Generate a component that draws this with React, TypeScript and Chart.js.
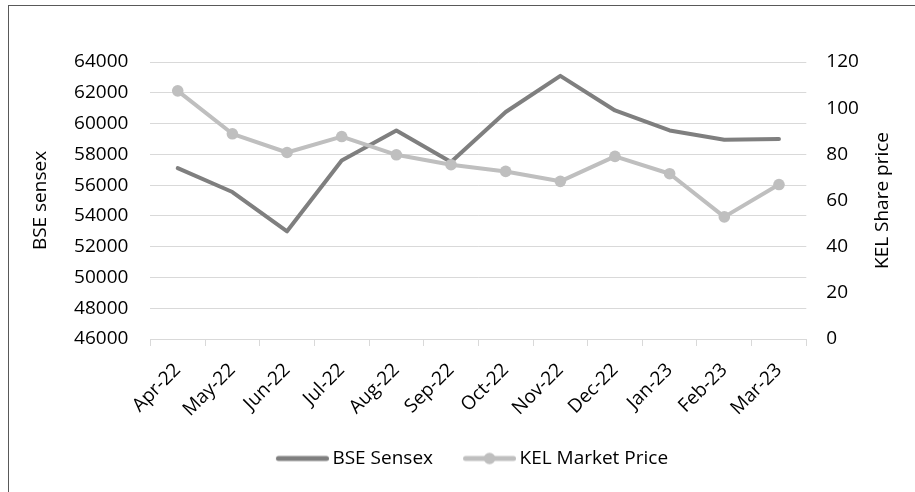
import React, { useEffect, useRef } from "react";
import { Chart, registerables } from "chart.js";

Chart.register(...registerables);

const months = ["Apr-22", "May-22", "Jun-22", "Jul-22", "Aug-22", "Sep-22", "Oct-22", "Nov-22", "Dec-22", "Jan-23", "Feb-23", "Mar-23"];
const bseSensex = [57100, 55550, 53000, 57600, 59550, 57500, 60750, 63100, 60850, 59550, 58950, 59000];
const kelPrice = [107.5, 88.9, 80.8, 87.7, 79.8, 75.5, 72.6, 68.3, 79.1, 71.6, 52.9, 66.9];
const leftAxisRange = [46000, 64000, 2000];
const rightAxisRange = [0, 120, 20];
const seriesNames = ["BSE Sensex", "KEL Market Price"];
const leftTitle = "BSE sensex";
const rightTitleText = "KEL Share price";

const FONT = '"Open Sans", "DejaVu Sans", sans-serif';
const BSE_COLOR = "#7f7f7f";
const KEL_COLOR = "#bfbfbf";
const GRID = "#d9d9d9";
const BOX_W = 67;
const FS = 19;

function makeIcon(color: string, dot: boolean) {
  const W = BOX_W + 12;
  const c = document.createElement("canvas");
  c.width = W;
  c.height = 14;
  const g = c.getContext("2d")!;
  g.strokeStyle = color;
  g.lineWidth = 5;
  g.lineCap = "round";
  g.beginPath();
  g.moveTo(W - 53 + 2.5, 7);
  g.lineTo(W - 2.5, 7);
  g.stroke();
  if (dot) {
    g.fillStyle = color;
    g.beginPath();
    g.arc(W - 26.5, 7, 5.8, 0, Math.PI * 2);
    g.fill();
  }
  return c;
}

const rightTitlePlugin = {
  id: "rightTitle",
  afterDraw(chart: any) {
    const s = chart.scales.y1;
    const ctx = chart.ctx;
    ctx.save();
    ctx.font = `${FS}px ${FONT}`;
    ctx.fillStyle = "#000";
    ctx.textAlign = "center";
    ctx.textBaseline = "middle";
    ctx.translate(s.right - 32, (chart.chartArea.top + chart.chartArea.bottom) / 2);
    ctx.rotate(-Math.PI / 2);
    ctx.fillText(rightTitleText, 0, 0);
    ctx.restore();
  },
};

export default function App() {
  const ref = useRef<HTMLCanvasElement>(null);
  useEffect(() => {
    const bseIcon = makeIcon(BSE_COLOR, false);
    const kelIcon = makeIcon(KEL_COLOR, true);
    const chart = new Chart(ref.current!, {
      type: "line",
      data: {
        labels: months,
        datasets: [
          {
            label: seriesNames[0],
            data: bseSensex,
            yAxisID: "y",
            borderColor: BSE_COLOR,
            backgroundColor: BSE_COLOR,
            borderWidth: 4,
            pointRadius: 0,
            pointHoverRadius: 0,
            tension: 0,
            borderJoinStyle: "round",
            borderCapStyle: "round",
            order: 1,
          },
          {
            label: seriesNames[1],
            data: kelPrice,
            yAxisID: "y1",
            borderColor: KEL_COLOR,
            backgroundColor: KEL_COLOR,
            pointBackgroundColor: KEL_COLOR,
            pointBorderWidth: 0,
            pointRadius: 5.8,
            borderWidth: 4,
            tension: 0,
            borderJoinStyle: "round",
            borderCapStyle: "round",
            order: 0,
          },
        ],
      },
      options: {
        responsive: false,
        animation: false,
        devicePixelRatio: 1,
        layout: { padding: { top: 56, bottom: 14, left: 0, right: 0 } },
        plugins: {
          tooltip: { enabled: false },
          legend: {
            position: "bottom",
            labels: {
              usePointStyle: true,
              pointStyleWidth: BOX_W,
              padding: 10,
              color: "#000",
              font: { family: FONT, size: FS },
              generateLabels: () => [
                { text: seriesNames[0], pointStyle: bseIcon as any, datasetIndex: 0, hidden: false, lineWidth: 0, fillStyle: BSE_COLOR, strokeStyle: BSE_COLOR },
                { text: seriesNames[1], pointStyle: kelIcon as any, datasetIndex: 1, hidden: false, lineWidth: 0, fillStyle: KEL_COLOR, strokeStyle: KEL_COLOR },
              ],
            },
          },
        },
        scales: {
          x: {
            type: "category",
            offset: true,
            grid: { display: true, drawOnChartArea: false, offset: true, color: GRID, tickLength: 7, lineWidth: 1 },
            border: { display: true, color: GRID, width: 1 },
            ticks: { maxRotation: 45, minRotation: 45, color: "#000", font: { family: FONT, size: FS }, padding: 13 },
            afterFit: (s: any) => { s.height = 100; },
          },
          y: {
            position: "left",
            min: leftAxisRange[0],
            max: leftAxisRange[1],
            ticks: { stepSize: leftAxisRange[2], color: "#000", font: { family: FONT, size: FS }, padding: 22, callback: (v: any) => String(v) },
            grid: { color: GRID, drawTicks: false, lineWidth: 1 },
            border: { display: false },
            title: { display: true, text: leftTitle, color: "#000", font: { family: FONT, size: FS }, padding: { top: 20, bottom: 0 } },
            afterFit: (s: any) => { s.width = 141.4; },
          },
          y1: {
            position: "right",
            min: rightAxisRange[0],
            max: rightAxisRange[1],
            ticks: { stepSize: rightAxisRange[2], color: "#000", font: { family: FONT, size: FS }, padding: 20, callback: (v: any) => String(v) },
            grid: { display: false, drawTicks: false },
            border: { display: false },
            afterFit: (s: any) => { s.width = 108.7; },
          },
        },
      },
      plugins: [rightTitlePlugin],
    } as any);
    return () => chart.destroy();
  }, []);
  return (
    <div
      style={{
        position: "fixed",
        left: 8,
        top: 5,
        width: 907,
        height: 487,
        borderLeft: "1px solid #595959",
        borderTop: "1px solid #595959",
        background: "#fff",
      }}
    >
      <canvas ref={ref} width={906} height={486} style={{ display: "block", width: 906, height: 486 }} />
    </div>
  );
}
